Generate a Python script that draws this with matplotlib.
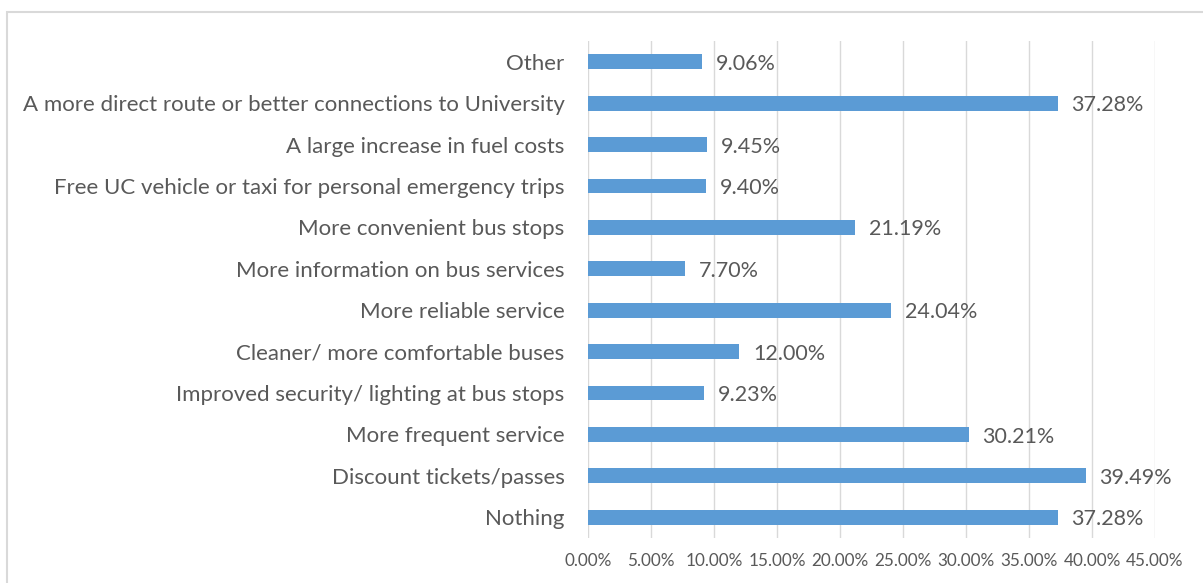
import matplotlib
matplotlib.use('Agg')
import matplotlib.pyplot as plt
from matplotlib.patches import Rectangle
from matplotlib.ticker import FuncFormatter, MultipleLocator

# survey responses, bottom to top
categories = [
    "Nothing",
    "Discount tickets/passes",
    "More frequent service",
    "Improved security/ lighting at bus stops",
    "Cleaner/ more comfortable buses",
    "More reliable service",
    "More information on bus services",
    "More convenient bus stops",
    "Free UC vehicle or taxi for personal emergency trips",
    "A large increase in fuel costs",
    "A more direct route or better connections to University",
    "Other",
]
percentages = [37.28, 39.49, 30.21, 9.23, 12.00, 24.04, 7.70, 21.19, 9.40, 9.45, 37.28, 9.06]

bar_color = "#5B9BD5"
text_color = "#595959"
grid_color = "#D9D9D9"

plt.rcParams['font.family'] = ['Lato', 'DejaVu Sans']

fig = plt.figure(figsize=(12.03, 5.83), dpi=100)
W, H = 1203, 583

# chart area frame
fig.patches.append(Rectangle((7 / W, -0.1), 1.2, 1 - 12 / H + 0.1,
                             transform=fig.transFigure, fill=False,
                             edgecolor=grid_color, linewidth=1.5))

ax = fig.add_axes([588 / W, 1 - 538 / H, (1155 - 588) / W, (538 - 41) / H])

y = range(len(categories))
ax.barh(y, percentages, height=0.36, color=bar_color, zorder=3)

for yi, v in zip(y, percentages):
    ax.text(v + 1.1, yi - 0.05, f"{v:.2f}%", va='center', ha='left',
            fontsize=15.5, color=text_color)

ax.set_xlim(0, 45)
ax.set_ylim(-0.5, len(categories) - 0.5)
ax.xaxis.set_major_locator(MultipleLocator(5))
ax.xaxis.set_major_formatter(FuncFormatter(lambda x, _: f"{x:.2f}%"))
ax.set_yticks(list(y))
ax.set_yticklabels(categories)

ax.grid(axis='x', color=grid_color, linewidth=1, zorder=0)
for s in ax.spines.values():
    s.set_visible(False)
ax.tick_params(axis='x', length=0, labelsize=12.3, labelcolor=text_color, pad=11)
ax.tick_params(axis='y', length=0, labelsize=16, labelcolor=text_color, pad=17)

fig.savefig("out.png", dpi=100)
